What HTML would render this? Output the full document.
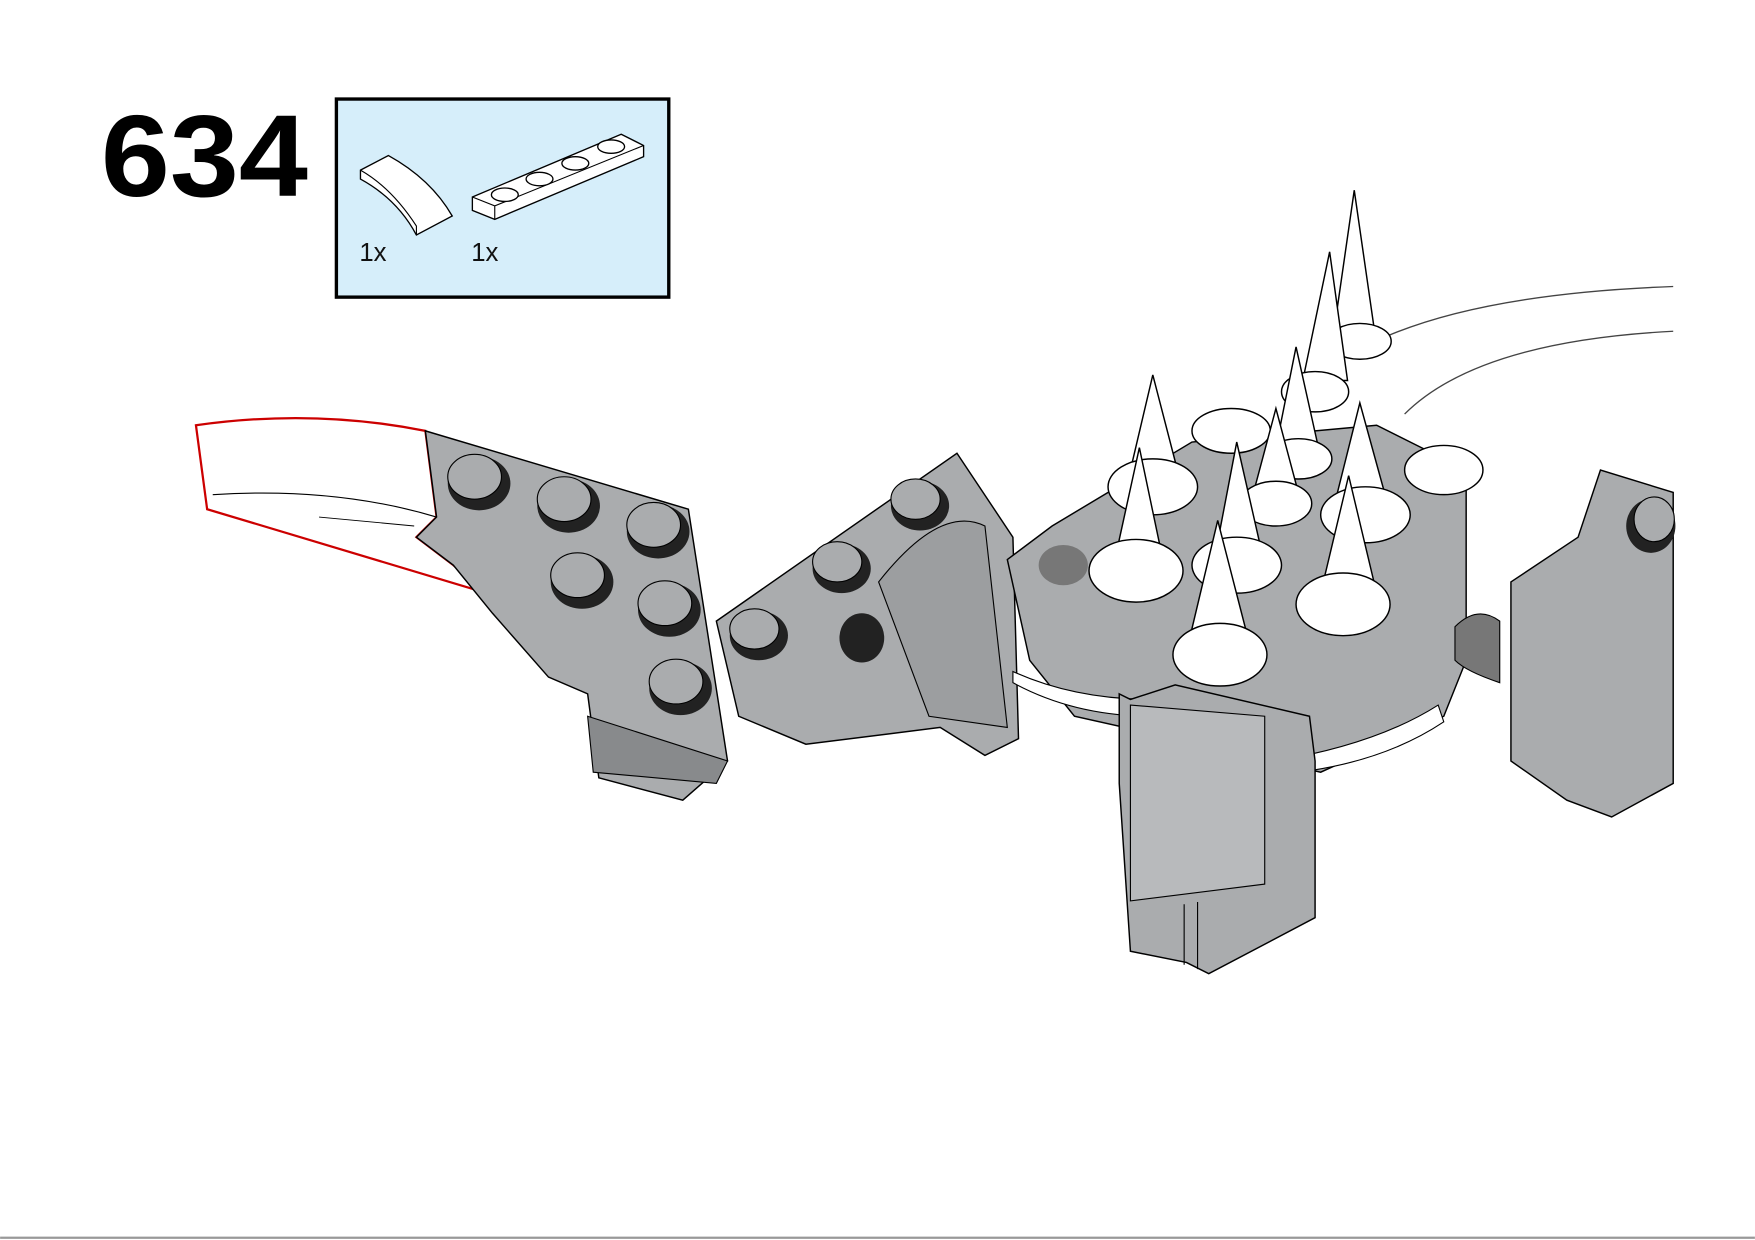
<!DOCTYPE html>
<html><head><style>
html,body{margin:0;padding:0;background:#fff;width:1755px;height:1240px;overflow:hidden}
svg{display:block}
text{font-family:"Liberation Sans",sans-serif}
</style></head><body>
<svg width="1755" height="1240" viewBox="0 0 1568 1108" xmlns="http://www.w3.org/2000/svg">
<rect width="1568" height="1108" fill="#fff"/>
<line x1="0" y1="1106" x2="1568" y2="1106" stroke="#999" stroke-width="2"/>
<text x="90" y="175" font-size="104" font-weight="bold" fill="#000" textLength="185" lengthAdjust="spacingAndGlyphs">634</text>
<rect x="300.5" y="88.5" width="297" height="177" fill="#d6eefa" stroke="#000" stroke-width="3"/>
<path d="M322,152 L347,139 Q385,160 404,193 L372,210 Q355,178 322,160 Z" fill="#fff" stroke="#000" stroke-width="1.2"/>
<path d="M322,152 Q350,168 372,202 L372,210" fill="none" stroke="#000" stroke-width="1"/>
<path d="M422,176 L555,120 L575,130 L575,140 L442,196 L422,188 Z" fill="#fff" stroke="#000" stroke-width="1.2"/>
<path d="M422,176 L442,184 L575,130 M442,184 L442,196" fill="none" stroke="#000" stroke-width="1"/>
<g fill="#fff" stroke="#000" stroke-width="1.2">
<ellipse cx="451" cy="174" rx="12" ry="6"/><ellipse cx="482" cy="160" rx="12" ry="6"/><ellipse cx="514" cy="146" rx="12" ry="6"/><ellipse cx="546" cy="131" rx="12" ry="6"/>
</g>
<text x="321" y="233" font-size="23" fill="#111">1x</text>
<text x="421" y="233" font-size="23" fill="#111">1x</text>

<path d="M1240,300 Q1330,262 1495,256" fill="none" stroke="#444" stroke-width="1.2"/>
<path d="M1255,370 Q1320,305 1495,296" fill="none" stroke="#444" stroke-width="1.2"/>

<path d="M175,380 Q280,365 380,385 L390,462 L372,480 L405,505 L435,530 L185,455 Z" fill="#fff" stroke="#c00" stroke-width="2"/>
<path d="M190,442 Q300,435 390,462" fill="none" stroke="#000" stroke-width="1"/>
<path d="M285,462 L370,470" fill="none" stroke="#000" stroke-width="0.8"/>
<path d="M380,385 L615,455 L650,680 L610,715 L535,695 L525,620 L490,605 L440,548 L405,505 L372,480 L390,462 Z" fill="#aaacae" stroke="#000" stroke-width="1.3"/>
<path d="M525,640 L650,680 L640,700 L530,690 Z" fill="#888a8c" stroke="#000"/>
<g fill="#222">
<ellipse cx="428" cy="432" rx="28" ry="24"/><ellipse cx="508" cy="452" rx="28" ry="24"/><ellipse cx="588" cy="475" rx="28" ry="24"/>
<ellipse cx="520" cy="520" rx="28" ry="24"/><ellipse cx="598" cy="545" rx="28" ry="24"/><ellipse cx="608" cy="615" rx="28" ry="24"/>
</g>
<g fill="#aaacae" stroke="#000">
<ellipse cx="424" cy="426" rx="24" ry="20"/><ellipse cx="504" cy="446" rx="24" ry="20"/><ellipse cx="584" cy="469" rx="24" ry="20"/>
<ellipse cx="516" cy="514" rx="24" ry="20"/><ellipse cx="594" cy="539" rx="24" ry="20"/><ellipse cx="604" cy="609" rx="24" ry="20"/>
</g>
<path d="M640,555 L855,405 L905,480 L910,660 L880,675 L840,650 L720,665 L660,640 Z" fill="#aaacae" stroke="#000" stroke-width="1.3"/>
<path d="M785,520 Q840,450 880,470 L900,650 L830,640 Z" fill="#9c9ea0" stroke="#000"/>
<g fill="#222"><ellipse cx="678" cy="568" rx="26" ry="22"/><ellipse cx="752" cy="508" rx="26" ry="22"/><ellipse cx="822" cy="452" rx="26" ry="22"/><ellipse cx="770" cy="570" rx="20" ry="22"/></g>
<g fill="#aaacae" stroke="#000"><ellipse cx="674" cy="562" rx="22" ry="18"/><ellipse cx="748" cy="502" rx="22" ry="18"/><ellipse cx="818" cy="446" rx="22" ry="18"/></g>
<path d="M900,500 L940,470 L1065,395 L1230,380 L1310,420 L1310,590 L1290,640 L1180,690 L1050,660 L960,640 L920,590 Z" fill="#aaacae" stroke="#000" stroke-width="1.3"/>
<ellipse cx="950" cy="505" rx="22" ry="18" fill="#777"/>
<path d="M905,600 Q960,625 1030,625 L1030,640 Q960,640 905,610 Z" fill="#fff" stroke="#000"/>
<path d="M1140,680 Q1230,665 1285,630 L1290,645 Q1230,685 1140,692 Z" fill="#fff" stroke="#000"/>
<path d="M1000,620 L1010,625 L1050,612 L1170,640 L1175,680 L1175,820 L1080,870 L1060,860 L1010,850 L1000,700 Z" fill="#aaacae" stroke="#000" stroke-width="1.3"/>
<path d="M1010,630 L1130,640 L1130,790 L1010,805 Z" fill="#b8babc" stroke="#000"/>
<path d="M1058,808 L1058,862 M1070,806 L1070,866" stroke="#000"/>
<path d="M1350,520 L1410,480 L1430,420 L1495,440 L1495,700 L1440,730 L1400,715 L1350,680 Z" fill="#aaacae" stroke="#000" stroke-width="1.3"/>
<ellipse cx="1475" cy="470" rx="22" ry="24" fill="#222"/><ellipse cx="1478" cy="464" rx="18" ry="20" fill="#aaacae" stroke="#000"/>
<path d="M1300,560 Q1320,540 1340,555 L1340,610 Q1310,600 1300,590 Z" fill="#777" stroke="#000"/>
<g fill="#fff" stroke="#000" stroke-width="1.3">
<ellipse cx="1100" cy="385" rx="35" ry="20"/><ellipse cx="1290" cy="420" rx="35" ry="22"/>
<path d="M1192,295 L1210,170 L1228,295 Z"/><ellipse cx="1215" cy="305" rx="28" ry="16"/>
<path d="M1164,340 L1188,225 L1204,340 Z"/><ellipse cx="1175" cy="350" rx="30" ry="18"/>
<path d="M1140,400 L1158,310 L1178,400 Z"/><ellipse cx="1160" cy="410" rx="30" ry="18"/>
<path d="M1010,420 L1030,335 L1052,420 Z"/><ellipse cx="1030" cy="435" rx="40" ry="25"/>
<path d="M1120,440 L1140,365 L1160,440 Z"/><ellipse cx="1140" cy="450" rx="32" ry="20"/>
<path d="M1195,440 L1215,360 L1237,440 Z"/><ellipse cx="1220" cy="460" rx="40" ry="25"/>
<path d="M995,505 L1018,400 L1040,505 Z"/><ellipse cx="1015" cy="510" rx="42" ry="28"/>
<path d="M1084,505 L1105,395 L1130,505 Z"/><ellipse cx="1105" cy="505" rx="40" ry="25"/>
<path d="M1180,530 L1205,425 L1230,530 Z"/><ellipse cx="1200" cy="540" rx="42" ry="28"/>
<path d="M1063,570 L1088,465 L1115,570 Z"/><ellipse cx="1090" cy="585" rx="42" ry="28"/>
</g>
</svg>
</body></html>
